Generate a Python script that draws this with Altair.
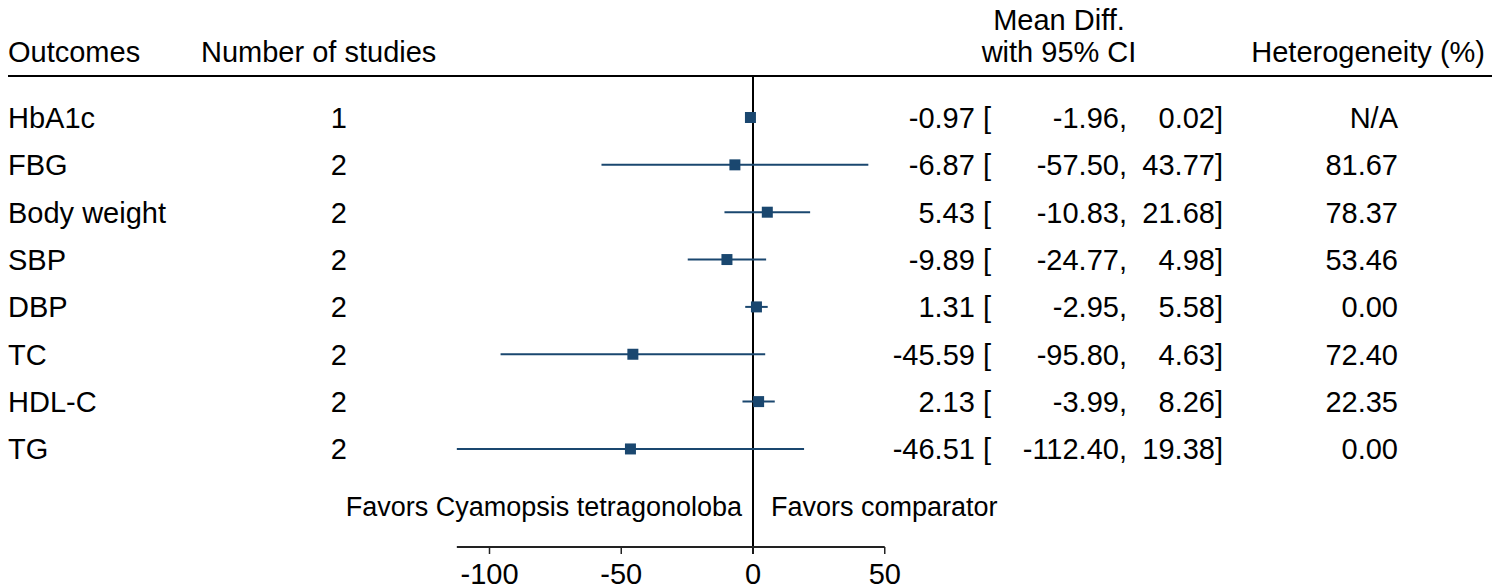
import altair as alt
import pandas as pd

# ---------------- data ----------------
outcomes = ["HbA1c", "FBG", "Body weight", "SBP", "DBP", "TC", "HDL-C", "TG"]
n_studies = [1, 2, 2, 2, 2, 2, 2, 2]
mean_diff = [-0.97, -6.87, 5.43, -9.89, 1.31, -45.59, 2.13, -46.51]
ci_low = [-1.96, -57.50, -10.83, -24.77, -2.95, -95.80, -3.99, -112.40]
ci_high = [0.02, 43.77, 21.68, 4.98, 5.58, 4.63, 8.26, 19.38]
heterogeneity = ["N/A", "81.67", "78.37", "53.46", "0.00", "72.40", "22.35", "0.00"]
x_ticks = [-100, -50, 0, 50]

df = pd.DataFrame({
    "outcome": outcomes,
    "n": [str(v) for v in n_studies],
    "es": mean_diff,
    "lo": ci_low,
    "hi": ci_high,
    "het": heterogeneity,
    "row": list(range(len(outcomes))),
})
df["es_txt"] = [f"{v:.2f} [" for v in mean_diff]
df["lo_txt"] = [f"{v:.2f}," for v in ci_low]
df["hi_txt"] = [f"{v:.2f}]" for v in ci_high]

ticks_df = pd.DataFrame({"t": x_ticks, "lab": [str(t) for t in x_ticks]})
axis_df = pd.DataFrame({"a": [min(ci_low)], "b": [max(x_ticks)]})
zero_df = pd.DataFrame({"z": [0]})

# ---------------- layout ----------------
W, H = 1484, 576
FONT = "Liberation Sans"
FS = 29
FS_SMALL = 27
NAVY = "#1a476f"
K = 2.635          # px per unit
X0 = 745           # plot-x of zero
ROW0, ROWH = 109.5, 47.35

xscale = alt.Scale(domain=[-X0 / K, (W - X0) / K], nice=False, zero=False)
yscale = alt.Scale(domain=[-ROW0 / ROWH, (H - ROW0) / ROWH], nice=False, zero=False, reverse=True)


def px(a):  # absolute page px -> plot px
    return a - 8


def label(text, x_abs, y_abs, align, size=FS):
    return alt.Chart(pd.DataFrame({"t": [text]})).mark_text(
        align=align, baseline="alphabetic", font=FONT, fontSize=size, color="black"
    ).encode(x=alt.value(px(x_abs)), y=alt.value(px(y_abs)), text="t:N")


def col(field, x_abs, align):
    return alt.Chart(df).mark_text(
        align=align, baseline="alphabetic", dy=10.5, font=FONT, fontSize=FS, color="black"
    ).encode(
        x=alt.value(px(x_abs)),
        y=alt.Y("row:Q", scale=yscale, axis=None),
        text=f"{field}:N",
    )


header_line = alt.Chart(zero_df).mark_rule(color="black", strokeWidth=2).encode(
    x=alt.value(0), x2=alt.value(W), y=alt.value(px(76))
)

zero_line = alt.Chart(zero_df).mark_rule(color="black", strokeWidth=2).encode(
    x=alt.X("z:Q", scale=xscale, axis=None), y=alt.value(px(77)), y2=alt.value(px(554))
)

ci = alt.Chart(df).mark_rule(color=NAVY, strokeWidth=2).encode(
    x=alt.X("lo:Q", scale=xscale, axis=None),
    x2="hi:Q",
    y=alt.Y("row:Q", scale=yscale, axis=None),
)

pts = alt.Chart(df).mark_square(color=NAVY, size=121, opacity=1).encode(
    x=alt.X("es:Q", scale=xscale, axis=None),
    y=alt.Y("row:Q", scale=yscale, axis=None),
)

axis_line = alt.Chart(axis_df).mark_rule(color="#222222", strokeWidth=2).encode(
    x=alt.X("a:Q", scale=xscale, axis=None), x2="b:Q", y=alt.value(px(547))
)
tick_marks = alt.Chart(ticks_df).mark_rule(color="#222222", strokeWidth=1.5).encode(
    x=alt.X("t:Q", scale=xscale, axis=None), y=alt.value(px(547)), y2=alt.value(px(554))
)
tick_labels = alt.Chart(ticks_df).mark_text(
    align="center", baseline="alphabetic", font=FONT, fontSize=FS, color="black"
).encode(x=alt.X("t:Q", scale=xscale, axis=None), y=alt.value(px(584)), text="lab:N")

layers = [
    header_line,
    zero_line,
    ci,
    pts,
    axis_line,
    tick_marks,
    tick_labels,
    label("Outcomes", 8, 62, "left"),
    label("Number of studies", 201, 62, "left"),
    label("Mean Diff.", 1059, 30, "center"),
    label("with 95% CI", 1059, 62, "center"),
    label("Heterogeneity (%)", 1485, 62, "right"),
    label("Favors Cyamopsis tetragonoloba", 742, 516, "right", FS_SMALL),
    label("Favors comparator", 771, 516, "left", FS_SMALL),
    col("outcome", 8, "left"),
    col("n", 347, "right"),
    col("es_txt", 991, "right"),
    col("lo_txt", 1127, "right"),
    col("hi_txt", 1223, "right"),
    col("het", 1398, "right"),
]

chart = alt.layer(*layers).properties(
    width=W, height=H, padding=0, autosize=alt.AutoSizeParams(type="none"), background="white"
).configure_view(stroke=None)

chart.save("out.html", embed_options={"renderer": "svg", "actions": False})
